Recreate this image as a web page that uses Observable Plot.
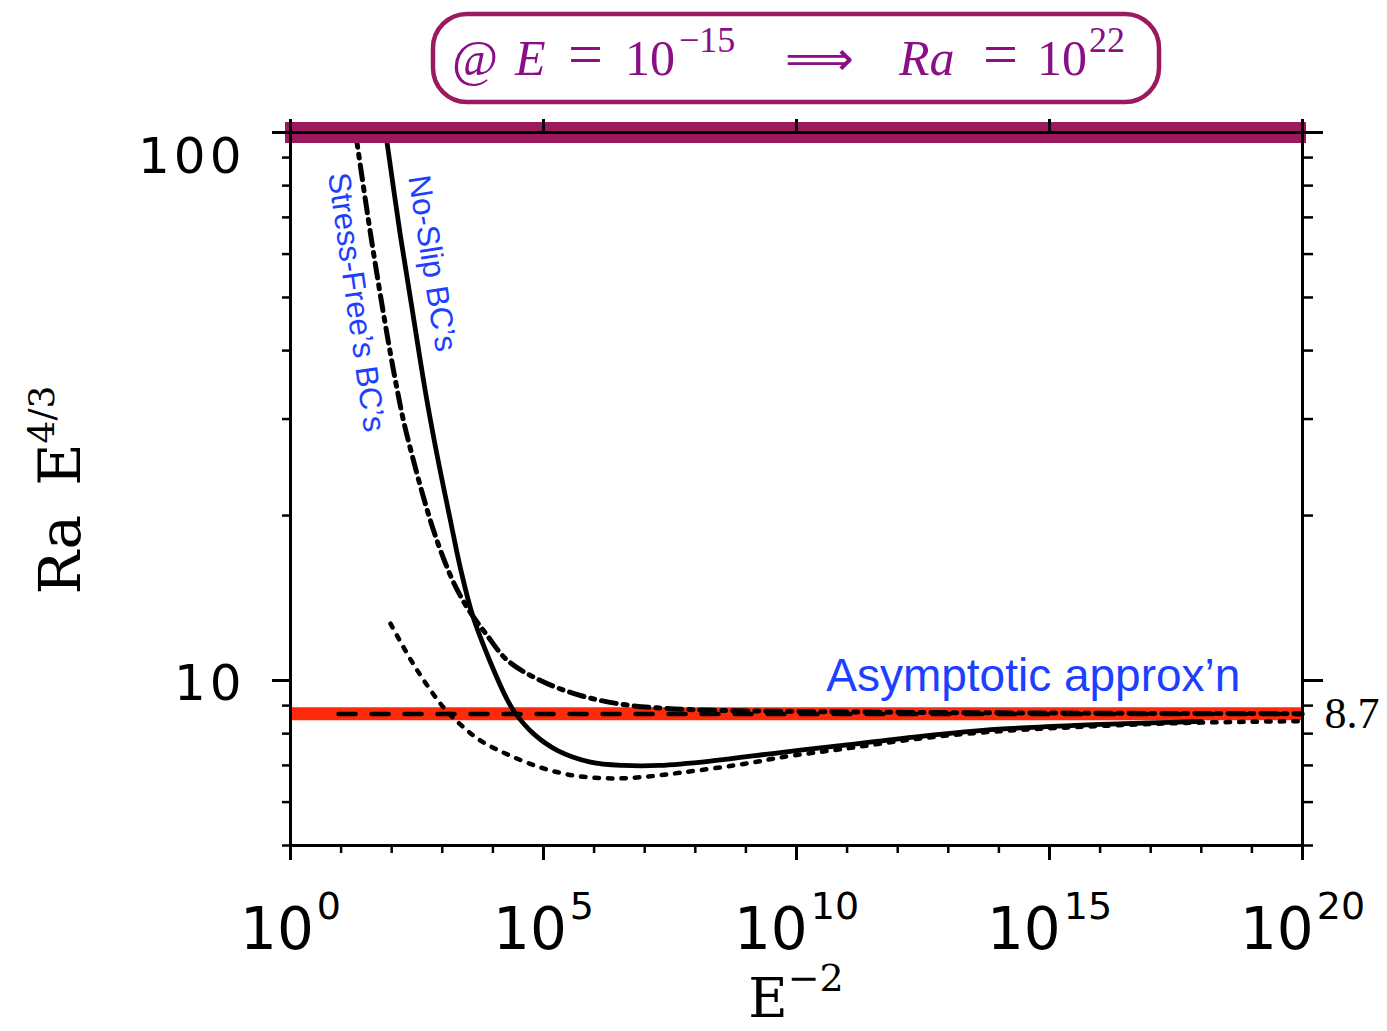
<!DOCTYPE html>
<html><head><meta charset="utf-8">
<script src="https://cdn.jsdelivr.net/npm/d3@7"></script>
<script src="https://cdn.jsdelivr.net/npm/@observablehq/plot@0.6"></script>
<style>
html,body{margin:0;padding:0;background:#fff;}
#chart{width:1387px;height:1031px;}
svg{display:block;}
</style></head><body><div id="chart"></div>
<script>
// ---- data (x given as log10 of E^-2, y as Ra E^{4/3}) ----
const noSlipLogX = [1.88, 2.17, 2.43, 2.67, 2.9, 3.16, 3.36, 3.6, 3.95, 4.29, 4.45, 4.8, 5.28, 5.93, 6.58, 7.3, 8.36, 9.68, 11.0, 12.5, 14.0, 15.5, 17.0, 18.0];
const noSlipY    = [100, 65, 46, 33.5, 25.7, 19.6, 16.0, 13.14, 10.8, 9.2, 8.7, 8.0, 7.45, 7.1, 7.0, 7.0, 7.14, 7.39, 7.63, 7.92, 8.15, 8.28, 8.37, 8.42];

const stressFreeLogX = [1.285, 1.581, 1.838, 2.036, 2.233, 2.431, 2.628, 2.826, 3.063, 3.3, 3.557, 3.854, 4.289, 4.941, 5.731, 6.581, 7.451, 8.498, 10.08, 12.0, 14.0, 17.0, 20.0];
const stressFreeY    = [100, 65.4, 46.7, 36.8, 29.8, 25.2, 21.6, 18.8, 16.35, 14.6, 13.3, 12.2, 10.88, 10.0, 9.39, 9.04, 8.89, 8.82, 8.78, 8.75, 8.73, 8.71, 8.7];

const dottedLogX = [1.976, 2.47, 3.024, 3.36, 3.755, 4.289, 4.941, 5.593, 6.265, 6.917, 7.708, 9.032, 9.684, 11.0, 12.5, 14.0, 15.5, 17.0, 18.0, 19.0, 20.0];
const dottedY    = [12.7, 10.56, 8.93, 8.31, 7.77, 7.33, 6.94, 6.71, 6.63, 6.66, 6.79, 7.06, 7.24, 7.52, 7.85, 8.08, 8.22, 8.33, 8.38, 8.41, 8.43];

const dashedLogX = [0.95, 20];
const dashedY    = [8.69, 8.69];

const asymptote = 8.7;
const topLevel = 100;

// axis ticks
const xMajor = [1e0, 1e5, 1e10, 1e15, 1e20];
const xMinor = [1e0,1e1,1e2,1e3,1e4,1e5,1e6,1e7,1e8,1e9,1e10,1e11,1e12,1e13,1e14,1e15,1e16,1e17,1e18,1e19,1e20];
const yMajor = [10, 100];
const yMinor = [5, 6, 7, 8, 9, 20, 30, 40, 50, 60, 70, 80, 90];

// annotations (anchor points in data units)
const noSlipLabel = [{lx: 2.8, y: 57.7, text: "No-Slip BC\u2019s"}];
const stressFreeLabel = [{lx: 1.3, y: 49, text: "Stress-Free\u2019s BC\u2019s"}];
const asymLabel = [{lx: 14.68, y: 10.2, text: "Asymptotic approx\u2019n"}];

const rows = (lx, ly) => lx.map((e, i) => ({x: Math.pow(10, e), y: ly[i]}));

const blue = "#1d3fff";
const W = 1387, H = 1031;

const chart = Plot.plot({
  width: W, height: H,
  marginLeft: 290, marginRight: 85, marginTop: 132, marginBottom: 186,
  style: {background: "white", color: "black", overflow: "visible", fontFamily: "Liberation Sans, Arial, sans-serif"},
  x: {type: "log", domain: [1, 1e20], label: null},
  y: {type: "log", domain: [5, 100], label: null},
  marks: [
    Plot.ruleY([asymptote], {stroke: "#ff2a0c", strokeWidth: 13}),
    Plot.line(rows(dashedLogX, dashedY), {x: "x", y: "y", stroke: "black", strokeWidth: 4.5, strokeDasharray: "17,16"}),
    Plot.line(rows(dottedLogX, dottedY), {x: "x", y: "y", stroke: "black", strokeWidth: 4.5, strokeDasharray: "4.5,9", curve: "catmull-rom", clip: true}),
    Plot.line(rows(stressFreeLogX, stressFreeY), {x: "x", y: "y", stroke: "black", strokeWidth: 5, strokeDasharray: "15,7,4,7", curve: "catmull-rom", clip: true}),
    Plot.line(rows(noSlipLogX, noSlipY), {x: "x", y: "y", stroke: "black", strokeWidth: 4.8, curve: "catmull-rom", clip: true}),
    Plot.ruleY([topLevel], {stroke: "#9b1a5e", strokeWidth: 21, insetLeft: -5, insetRight: -4}),
    Plot.frame({stroke: "black", strokeWidth: 3}),
    // ticks
    Plot.axisX(xMinor, {anchor: "bottom", tickSize: 8, strokeWidth: 2.5, tickFormat: () => ""}),
    Plot.axisX(xMajor, {anchor: "bottom", tickSize: 15, strokeWidth: 3, tickFormat: () => ""}),
    Plot.axisX(xMajor, {anchor: "top", tickSize: 14, strokeWidth: 3, tickFormat: () => ""}),
    Plot.axisY(yMinor, {anchor: "left", tickSize: 8, strokeWidth: 2.5, tickFormat: () => ""}),
    Plot.axisY(yMajor, {anchor: "left", tickSize: 18, strokeWidth: 3, tickFormat: () => ""}),
    Plot.axisY(yMinor, {anchor: "right", tickSize: 10, strokeWidth: 2.5, tickFormat: () => ""}),
    Plot.axisY(yMajor, {anchor: "right", tickSize: 20, strokeWidth: 3, tickFormat: () => ""}),
    // tick labels
    Plot.axisX(xMajor, {anchor: "bottom", tickSize: 0, tickPadding: 62, fontSize: 58,
      fontFamily: "DejaVu Sans, sans-serif",
      tickFormat: d => "10^" + Math.round(Math.log10(d))}),
    Plot.axisY([100], {anchor: "left", tickSize: 0, tickPadding: 45, dy: 24, fontSize: 50, fontFamily: "DejaVu Sans, sans-serif", tickFormat: d => String(d)}),
    Plot.axisY([10], {anchor: "left", tickSize: 0, tickPadding: 45, dy: 3, fontSize: 50, fontFamily: "DejaVu Sans, sans-serif", tickFormat: d => String(d)}),
    Plot.text([asymptote], {y: d => d, frameAnchor: "right", dx: 22, textAnchor: "start", text: d => String(d), fontSize: 44, fontFamily: "Liberation Serif, serif"}),
    // annotations
    Plot.text(noSlipLabel, {x: d => Math.pow(10, d.lx), y: "y", text: "text", rotate: 81, fill: blue, fontSize: 31.5, fontFamily: "Liberation Sans, sans-serif"}),
    Plot.text(stressFreeLabel, {x: d => Math.pow(10, d.lx), y: "y", text: "text", rotate: 82, fill: blue, fontSize: 31.5, fontFamily: "Liberation Sans, sans-serif"}),
    Plot.text(asymLabel, {x: d => Math.pow(10, d.lx), y: "y", text: "text", fill: blue, fontSize: 46, fontFamily: "Liberation Sans, sans-serif"})
  ]
});

document.getElementById("chart").appendChild(chart);
const svg = d3.select(chart);

// superscripts on x tick labels
svg.selectAll('g[aria-label="x-axis tick label"] text').each(function() {
  const t = d3.select(this);
  const s = t.text();
  if (!s.includes("^")) return;
  const [b, e] = s.split("^");
  t.text(null);
  t.append("tspan").text(b);
  t.append("tspan").attr("dx", 3).attr("dy", -30).attr("font-size", 38).text(e);
});
svg.selectAll('g[aria-label="y-axis tick label"] text').attr("letter-spacing", 4);

// title box
const cx = (290 + (W - 85)) / 2;
const g = svg.append("g");
g.append("rect").attr("x", cx - 363).attr("y", 14).attr("width", 726).attr("height", 88)
  .attr("rx", 34).attr("fill", "white").attr("stroke", "#9b1a5e").attr("stroke-width", 4.5);
const title = g.append("text").attr("fill", "#8a0f86").attr("text-anchor", "start")
  .attr("font-family", "Liberation Serif, DejaVu Serif, serif").attr("font-size", 50);
const pieces = [
  {t: "@", dx: -344, y: 75},
  {t: "E", dx: -281, y: 75, it: true},
  {t: "=", dx: -228, y: 75, eq: true},
  {t: "10", dx: -171, y: 75},
  {t: "\u221215", dx: -117, y: 52, sup: true},
  {t: "\u27F9", dx: -11, y: 75, arrow: true},
  {t: "Ra", dx: 103, y: 75, it: true},
  {t: "=", dx: 187, y: 75, eq: true},
  {t: "10", dx: 241, y: 75},
  {t: "22", dx: 293, y: 52, sup: true}
];
pieces.forEach(p => {
  const ts = title.append("tspan").attr("x", cx + p.dx).attr("y", p.y).text(p.t);
  if (p.it) ts.attr("font-style", "italic");
  if (p.sup) ts.attr("font-size", 36);
  if (p.eq) ts.attr("font-size", 62);
  if (p.arrow) ts.attr("font-family", "DejaVu Sans, sans-serif").attr("font-size", 48);
});

// y-axis label
const yl = svg.append("text").attr("transform", "translate(80,490) rotate(-90)").attr("text-anchor", "middle")
  .attr("font-family", "DejaVu Serif, serif").attr("font-size", 58).attr("fill", "black");
yl.append("tspan").text("Ra\u2002E");
yl.append("tspan").attr("dy", -26).attr("font-size", 36).text("4/3");

// x-axis label
const xl = svg.append("text").attr("x", cx).attr("y", 1017).attr("text-anchor", "middle")
  .attr("font-family", "DejaVu Serif, serif").attr("font-size", 54).attr("fill", "black");
xl.append("tspan").text("E");
xl.append("tspan").attr("dy", -26).attr("font-size", 38).text("\u22122");
</script>
</body></html>
